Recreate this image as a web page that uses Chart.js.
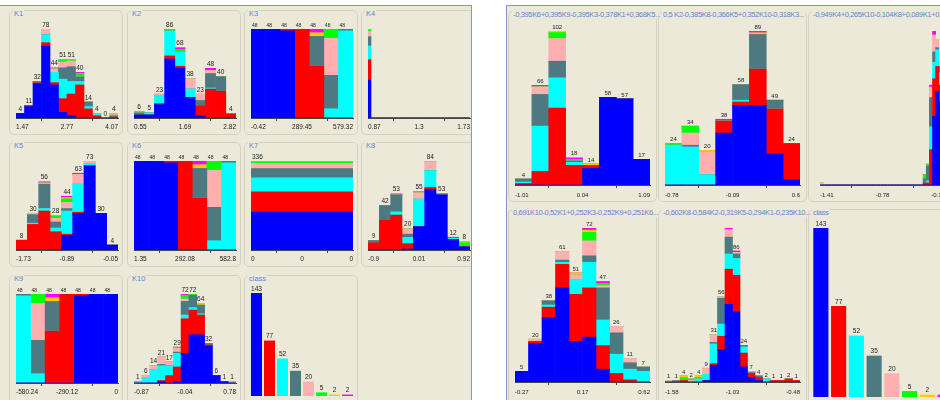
<!DOCTYPE html>
<html>
<head>
<meta charset="utf-8">
<script src="https://cdn.jsdelivr.net/npm/chart.js@4.4.0/dist/chart.umd.min.js"></script>
<style>
  body { margin: 0; width: 940px; height: 400px; background: #fff; position: relative; overflow: hidden;
         font-family: "Liberation Sans", Arial, sans-serif; }
  .pane { position: absolute; top: 5px; height: 395px; background: #ece9d8; overflow: hidden; border-top: 1px solid #7f9db9; }
  #left { left: 0; width: 471px; border-right: 1px solid #7f9db9; }
  #right { left: 506px; width: 434px; border-left: 1px solid #7f9db9; }
  .box { position: absolute; border: 1px solid #d6d2c2; border-radius: 5px; box-sizing: border-box; }
  .ttl { position: absolute; background: #ece9d8; color: #5f84d6; font-size: 7.5px; line-height: 9px;
         white-space: nowrap; padding: 0 1px; }
  #right .ttl { letter-spacing: -0.35px; }
  canvas { position: absolute; }
</style>
</head>
<body>
<div id="left" class="pane"></div>
<div id="right" class="pane"></div>
<script>
// class order: blue, red, cyan, slate, pink, green, orange, magenta
const classColors = ['#0000ff', '#ff0000', '#00ffff', '#4d7a80', '#ffafaf', '#00ff00', '#ffc800', '#ff00ff'];
const classCounts = [143, 77, 52, 35, 20, 5, 2, 2];

// histogram bins, one row per bin, one value per class
const k1Bins = [[4,0,0,0,0,0,0,0],[10,1,0,0,0,0,0,0],[30,1,0,1,0,0,0,0],[63,3,7,0,5,0,0,0],
  [29,2,9,0,3,0,0,1],[5,12,17,10,5,2,0,0],[2,19,11,13,5,1,0,0],[0,29,3,4,0,3,0,1],
  [0,8,2,4,0,0,0,0],[0,2,2,0,0,0,0,0],[0,0,0,0,0,0,0,0],[0,1,0,1,1,0,1,0]];
const k1Ticks = ['1.47', '2.77', '4.07'];

const k2Bins = [[3,0,0,2,0,1,0,0],[3,0,2,0,0,0,0,0],[13,1,8,0,1,0,0,0],[57,3,24,0,0,2,0,0],
  [48,2,14,0,0,2,0,2],[20,0,8,0,10,0,0,0],[2,10,0,5,6,0,0,0],[0,28,1,14,3,0,0,2],
  [0,26,0,14,0,0,0,0],[0,4,0,0,0,0,0,0]];
const k2Ticks = ['0.55', '1.69', '2.82'];

const k3Bins = [[48,0,0,0,0,0,0,0],[48,0,0,0,0,0,0,0],[47,1,0,0,0,0,0,0],[0,48,0,0,0,0,0,0],
  [0,28,0,16,0,0,2,2],[0,0,5,18,20,5,0,0],[0,0,47,1,0,0,0,0]];
const k3Ticks = ['-0.42', '289.45', '579.32'];

const k4Bins = [[143,77,52,35,20,5,2,2]].concat(Array.from({length: 33}, () => [0,0,0,0,0,0,0,0]));
const k4Ticks = ['0.87', '1.3', '1.73'];

const k5Bins = [[0,8,0,0,0,0,0,0],[0,21,1,7,0,0,1,0],[0,32,2,20,1,0,0,1],[0,15,3,5,3,2,0,0],
  [12,1,19,2,5,3,1,1],[30,1,23,0,8,0,0,1],[69,0,2,0,2,0,0,0],[30,0,0,0,0,0,0,0],[4,0,0,0,0,0,0,0]];
const k5Ticks = ['-1.73', '-0.89', '-0.05'];

const k6Bins = [[48,0,0,0,0,0,0,0],[48,0,0,0,0,0,0,0],[47,1,0,0,0,0,0,0],[0,48,0,0,0,0,0,0],
  [0,28,0,16,0,0,2,2],[0,0,5,18,20,5,0,0],[0,0,47,1,0,0,0,0]];
const k6Ticks = ['1.35', '292.08', '582.8'];

const k7Bins = [[143,77,52,35,20,5,2,2]];
const k7Ticks = ['0', '0', '0'];

const k8Bins = [[0,7,0,2,0,0,0,0],[0,28,0,14,0,0,0,0],[0,33,3,16,0,0,0,1],[1,5,6,3,5,0,0,0],
  [22,0,26,0,6,0,0,1],[57,2,16,0,8,0,1,0],[52,0,0,1,0,0,0,0],[10,0,1,1,0,0,0,0],[3,0,0,0,0,4,1,0]];
const k8Ticks = ['-0.9', '0.01', '0.92'];

const k9Bins = [[0,0,47,1,0,0,0,0],[0,0,5,18,20,5,0,0],[0,28,0,16,0,0,2,2],[0,48,0,0,0,0,0,0],
  [47,1,0,0,0,0,0,0],[48,0,0,0,0,0,0,0],[48,0,0,0,0,0,0,0]];
const k9Ticks = ['-580.24', '-290.12', '0'];

const k10Bins = [[0,0,1,0,0,0,0,0],[0,0,4,0,2,0,0,0],[0,0,11,0,3,0,0,0],[1,1,12,1,6,0,0,0],
  [0,6,8,0,3,0,0,0],[1,12,11,1,3,1,0,0],[24,28,3,11,2,3,0,1],[39,20,2,10,0,1,0,0],
  [39,16,1,7,0,0,1,0],[30,1,0,1,0,0,0,0],[6,0,0,0,0,0,0,0],[1,0,0,0,0,0,0,0],[0,0,0,0,0,0,1,0]];
const k10Ticks = ['-0.87', '-0.04', '0.78'];

const pc1Bins = [[0,1,1,2,0,0,0,0],[0,9,30,21,5,0,0,1],[0,51,20,11,15,4,1,0],[0,13,2,1,0,1,0,1],
  [11,2,0,0,0,0,1,0],[58,0,0,0,0,0,0,0],[57,0,0,0,0,0,0,0],[17,0,0,0,0,0,0,0]];
const pc1Ticks = ['-1.01', '0.04', '1.09'];

const pc2Bins = [[0,0,23,0,0,1,0,0],[0,0,22,1,7,4,0,0],[0,0,6,0,13,0,1,0],[30,7,0,0,0,0,0,1],
  [46,2,1,9,0,0,0,0],[46,21,0,20,0,0,1,1],[18,26,0,5,0,0,0,0],[3,21,0,0,0,0,0,0]];
const pc2Ticks = ['-0.78', '-0.09', '0.6'];

const pc3Bins = [[0,0,0,0,0,0,1,0]].concat(Array.from({length: 32}, () => [0,0,0,0,0,0,0,0]),
  [[0,1,0,2,0,2,0,0],[0,1,1,7,0,1,0,0],[0,17,11,14,5,0,0,1],[33,18,8,5,8,0,0,2],
   [45,12,8,1,4,0,0,0],[40,8,6,3,2,0,0,0],[15,4,2,1,0,0,0,0]]);
const pc3Ticks = ['-1.41', '-0.78', '-0.15'];

const pc4Bins = [[5,0,0,0,0,0,0,0],[18,1,0,0,1,0,0,0],[30,5,1,2,0,0,0,0],[44,11,1,1,4,0,0,0],
  [19,22,7,0,2,0,1,0],[21,23,12,3,7,4,1,1],[6,11,12,15,1,1,0,1],[0,4,9,10,3,0,0,0],
  [0,1,5,3,2,0,0,0],[0,0,5,2,0,0,0,0]];
const pc4Ticks = ['-0.27', '0.17', '0.62'];

const pc5Bins = [[0,0,0,0,1,0,0,0],[0,0,0,1,0,0,0,0],[0,1,0,0,0,2,1,0],[0,0,0,0,1,1,0,0],
  [0,0,2,0,0,1,1,0],[1,0,4,0,4,0,0,0],[11,1,13,1,5,0,0,0],[21,9,8,17,1,0,0,0],
  [51,23,10,11,5,0,0,1],[46,24,11,3,1,0,0,1],[10,9,4,1,0,0,0,0],[3,3,1,0,0,0,0,0],
  [1,2,0,1,0,0,0,0],[0,0,2,0,0,0,0,0],[0,1,0,0,0,0,0,0],[0,1,0,0,0,0,0,0],[0,2,0,0,0,0,0,0],[0,1,0,0,0,0,0,0]];
const pc5Ticks = ['-1.58', '-1.03', '-0.48'];

const FONT = '"Liberation Sans", Arial, sans-serif';
Chart.defaults.font.family = FONT;

// draws the bin totals above each bar
const totalsPlugin = {
  id: 'totals',
  afterDatasetsDraw(chart, args, opts) {
    if (!opts.show) return;
    const ctx = chart.ctx, xs = chart.scales.x, ys = chart.scales.y;
    const n = chart.data.labels.length;
    ctx.save();
    ctx.font = opts.size + 'px ' + FONT;
    ctx.fillStyle = '#222';
    ctx.textBaseline = 'bottom';
    for (let i = 0; i < n; i++) {
      if (opts.skip && opts.skip.includes(i)) continue;
      const tot = chart.data.datasets.reduce((s, d) => s + d.data[i], 0);
      const y = ys.getPixelForValue(tot) - 1;
      let x = xs.getPixelForValue(i);
      if (opts.align === 'left') {
        ctx.textAlign = 'left';
        x = x - xs.width / n / 2 + 1;
      } else {
        ctx.textAlign = 'center';
      }
      ctx.fillText(String(tot), x, y);
    }
    ctx.restore();
  }
};

const L_COLS = [9, 127, 244, 361], L_ROWS = [10, 142, 275];
const R_COLS = [508, 658, 808], R_ROWS = [11, 209];

function leftSpec(col, row) {
  const c = L_COLS[col], r = L_ROWS[row];
  return { pane: 'left', box: [c, r, 114, row < 2 ? 125 : 130], plot: [c + 7, r + 19, c + 109, r + 108],
           tickSize: 6.5, tickPad: 2, labelSize: 6.5 };
}
function rightSpec(col, row) {
  const c = R_COLS[col], r = R_ROWS[row];
  return { pane: 'right', box: [c, r, 149, row ? 200 : 191], plot: [c + 7, row ? 228 : 31, c + 142, row ? 382 : 185],
           tickSize: 6, tickPad: 4, labelSize: 6 };
}

const panels = [
  Object.assign(leftSpec(0, 0), { title: 'K1', bins: k1Bins, ticks: k1Ticks }),
  Object.assign(leftSpec(1, 0), { title: 'K2', bins: k2Bins, ticks: k2Ticks }),
  Object.assign(leftSpec(2, 0), { title: 'K3', bins: k3Bins, ticks: k3Ticks, labelSize: 5, align: 'left' }),
  Object.assign(leftSpec(3, 0), { title: 'K4', bins: k4Bins, ticks: k4Ticks, noLabels: true }),
  Object.assign(leftSpec(0, 1), { title: 'K5', bins: k5Bins, ticks: k5Ticks }),
  Object.assign(leftSpec(1, 1), { title: 'K6', bins: k6Bins, ticks: k6Ticks, labelSize: 5, align: 'left' }),
  Object.assign(leftSpec(2, 1), { title: 'K7', bins: k7Bins, ticks: k7Ticks, align: 'left' }),
  Object.assign(leftSpec(3, 1), { title: 'K8', bins: k8Bins, ticks: k8Ticks }),
  Object.assign(leftSpec(0, 2), { title: 'K9', bins: k9Bins, ticks: k9Ticks, labelSize: 5, align: 'left' }),
  Object.assign(leftSpec(1, 2), { title: 'K10', bins: k10Bins, ticks: k10Ticks }),
  Object.assign(leftSpec(2, 2), { title: 'class', cls: true, plot: [250, 293, 354, 396], barPct: 0.85 }),
  Object.assign(rightSpec(0, 0), { title: '-0,395K6+0,395K9-0,395K3-0,378K1+0,368K5...', bins: pc1Bins, ticks: pc1Ticks }),
  Object.assign(rightSpec(1, 0), { title: '0,5 K2-0,385K8-0,366K5+0,352K10-0,318K3...', bins: pc2Bins, ticks: pc2Ticks }),
  Object.assign(rightSpec(2, 0), { title: '-0,949K4+0,265K10-0,104K8+0,089K1+0,057K...', bins: pc3Bins, ticks: pc3Ticks,
                                   plot: [820, 31, 945, 185], noLabels: true }),
  Object.assign(rightSpec(0, 1), { title: '0,691K10-0,52K1+0,252K3-0,252K9+0,251K6...', bins: pc4Bins, ticks: pc4Ticks }),
  Object.assign(rightSpec(1, 1), { title: '-0,602K8-0,584K2-0,319K5-0,294K1-0,235K10...', bins: pc5Bins, ticks: pc5Ticks, skip: [8] }),
  Object.assign(rightSpec(2, 1), { title: 'class', cls: true, plot: [812, 228, 954, 397], labelSize: 6.5, barPct: 0.85 })
];

function makePanel(p) {
  const pane = document.getElementById(p.pane);
  const ox = p.pane === 'left' ? 0 : 507, oy = 6;

  const box = document.createElement('div');
  box.className = 'box';
  box.style.left = (p.box[0] - ox) + 'px';
  box.style.top = (p.box[1] - oy) + 'px';
  box.style.width = p.box[2] + 'px';
  box.style.height = p.box[3] + 'px';
  pane.appendChild(box);

  const t = document.createElement('div');
  t.className = 'ttl';
  t.textContent = p.title;
  t.style.left = (p.box[0] + 4 - ox) + 'px';
  t.style.top = (p.box[1] - 1 - oy) + 'px';
  pane.appendChild(t);

  const [L, T, R, B] = p.plot;
  const padX = 14, padT = 12, axisH = p.cls ? 0 : 14;
  const w = R - L + padX * 2, h = padT + (B - T) + axisH + 1;
  const cv = document.createElement('canvas');
  cv.width = w; cv.height = h;
  cv.style.width = w + 'px'; cv.style.height = h + 'px';
  cv.style.left = (L - padX - ox) + 'px';
  cv.style.top = (T - padT - oy) + 'px';
  pane.appendChild(cv);

  let labels, datasets, maxVal;
  if (p.cls) {
    labels = classCounts.map((_, i) => String(i));
    datasets = [{ data: classCounts, backgroundColor: classColors, borderWidth: 0,
                  categoryPercentage: p.barPct, barPercentage: 1 }];
    maxVal = Math.max(...classCounts);
  } else {
    labels = p.bins.map((_, i) => String(i));
    datasets = classColors.map((col, c) => ({
      data: p.bins.map(b => b[c]), backgroundColor: col, borderWidth: 0,
      categoryPercentage: 1, barPercentage: 1
    }));
    maxVal = Math.max(...p.bins.map(b => b.reduce((a, v) => a + v, 0)));
  }

  const scales = {
    x: { type: 'category', stacked: true, display: false, offset: true },
    y: { stacked: true, display: false, min: 0, max: maxVal }
  };
  if (!p.cls) {
    scales.x2 = {
      type: 'linear', position: 'bottom', min: 0, max: 1, offset: false,
      afterBuildTicks: ax => { ax.ticks = [0, 0.5, 1].map(v => ({ value: v })); },
      afterFit: ax => { ax.height = axisH; },
      grid: { drawOnChartArea: false, drawTicks: true, tickLength: 3, color: '#444', lineWidth: 1 },
      border: { display: true, color: '#444', width: 1 },
      ticks: { font: { size: p.tickSize }, color: '#222', padding: p.tickPad, align: 'inner',
               maxRotation: 0, autoSkip: false, callback: (v, i) => p.ticks[i] }
    };
  }

  new Chart(cv, {
    type: 'bar',
    data: { labels: labels, datasets: datasets },
    options: {
      responsive: false,
      animation: false,
      devicePixelRatio: 1,
      layout: { padding: { left: padX, right: padX, top: padT, bottom: 1 } },
      scales: scales,
      plugins: {
        legend: { display: false },
        tooltip: { enabled: false },
        totals: { show: !p.noLabels, size: p.labelSize, align: p.align, skip: p.skip }
      }
    },
    plugins: [totalsPlugin]
  });
}

panels.forEach(makePanel);
</script>
</body>
</html>
